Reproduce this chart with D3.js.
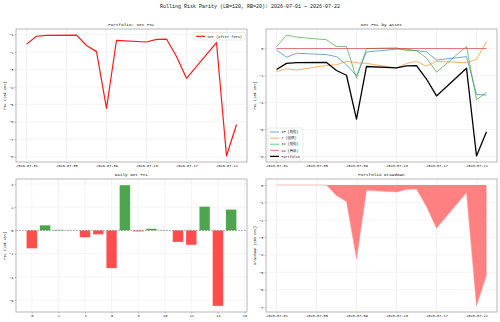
<!DOCTYPE html>
<html>
<head>
<meta charset="utf-8">
<script src="https://cdn.jsdelivr.net/npm/d3@7"></script>
<style>
  body { margin: 0; background: #fff; }
  text { font-family: "Liberation Mono", "Noto Sans CJK SC", monospace; fill: #111; }
</style>
</head>
<body>
<div id="chart"></div>
<script>
// trading days in the window
var dates = ["2026-07-01", "2026-07-02", "2026-07-03", "2026-07-06", "2026-07-07", "2026-07-08",
  "2026-07-09", "2026-07-10", "2026-07-13", "2026-07-14", "2026-07-15", "2026-07-16",
  "2026-07-17", "2026-07-20", "2026-07-21", "2026-07-22"];
var dateTicks = ["2026-07-01", "2026-07-05", "2026-07-09", "2026-07-13", "2026-07-17", "2026-07-21"];

// cumulative net pnl (10k CNY)
var netPnl = [-1.55, -1.10, -1.05, -1.03, -1.63, -1.98, -5.23, -1.33, -1.43, -1.28, -1.26, -2.26, -3.51, -1.46, -7.96, -6.16];
// daily net pnl
var dailyPnl = [-1.55, 0.45, 0.05, 0.02, -0.60, -0.35, -3.25, 3.90, -0.10, 0.15, 0.02, -1.00, -1.25, 2.05, -6.50, 1.80];
// drawdown
var drawdown = [0, 0, 0, 0, -0.60, -0.95, -4.22, -0.30, -0.40, -0.25, -0.23, -1.23, -2.48, -0.43, -6.93, -5.13];

// per asset cumulative pnl
var assetNames = ["IF (股指)", "T (国债)", "IC (股指)", "CU (商品)"];
var pnlIF = [-0.10, -0.65, -0.35, -0.45, -0.60, -1.20, -2.00, -0.25, -0.05, -0.05, -0.15, -0.25, -0.85, -0.60, -3.40, -3.45];
var pnlT = [-1.70, -1.50, -1.60, -1.25, -1.20, -0.95, -1.05, -1.10, -1.45, -1.10, -0.95, -1.30, -0.95, -1.05, -0.80, 0.50];
var pnlIC = [0.15, 1.00, 0.85, 0.65, 0.15, 0.15, -2.20, 0.00, 0.05, -0.15, -0.15, -0.70, -1.75, 0.15, -3.80, -3.25];
var pnlCU = [0, 0, 0, 0, 0, 0, 0, 0, 0, 0, 0, 0, 0, 0, 0, 0];

var tickTopLeft = [-8, -7, -6, -5, -4, -3, -2, -1];
var tickTopRight = [-8, -6, -4, -2, 0];
var tickDaily = [-6, -4, -2, 0, 2, 4];
var tickDailyX = [0, 2, 4, 6, 8, 10, 12, 14, 16];
var tickDrawdown = [-7, -6, -5, -4, -3, -2, -1, 0];

var assetColors = ["#1f77b4", "#ff7f0e", "#2ca02c", "#d62728"];

var parse = d3.timeParse("%Y-%m-%d");
var days = dates.map(parse);

var W = 500, H = 322;
var pw = 231, ph = 133;   // panel size
var svg = d3.select("#chart").append("svg")
  .attr("width", W)
  .attr("height", H);

svg.append("text")
  .attr("x", W / 2)
  .attr("y", 7.5)
  .attr("text-anchor", "middle")
  .style("font-size", "5px")
  .text("Rolling Risk Parity (LB=120, RB=20): 2026-07-01 ~ 2026-07-22");

// pad a domain like matplotlib does (5% each side)
function padded(lo, hi) {
  var p = (hi - lo) * 0.05;
  return [lo - p, hi + p];
}

var t0 = +days[0], t1 = +days[days.length - 1];
var tp = (t1 - t0) * 0.05;
function timeScale() {
  return d3.scaleTime().domain([new Date(t0 - tp), new Date(t1 + tp)]).range([0, pw]);
}

// draws grid, axes and titles of one panel
function panel(left, top, title, ylabel, x, y, xticks, yticks, xfmt) {
  var g = svg.append("g").attr("transform", "translate(" + left + "," + top + ")");

  g.selectAll(".gx").data(xticks).enter().append("line")
    .attr("x1", function (d) { return x(d); }).attr("x2", function (d) { return x(d); })
    .attr("y1", 0).attr("y2", ph)
    .attr("stroke", "#ebebeb").attr("stroke-width", 0.5);
  g.selectAll(".gy").data(yticks).enter().append("line")
    .attr("y1", function (d) { return y(d); }).attr("y2", function (d) { return y(d); })
    .attr("x1", 0).attr("x2", pw)
    .attr("stroke", "#ebebeb").attr("stroke-width", 0.5);

  var ax = g.append("g")
    .attr("transform", "translate(0," + ph + ")")
    .call(d3.axisBottom(x).tickValues(xticks).tickSize(1.3).tickPadding(1.2).tickFormat(xfmt));
  var ay = g.append("g")
    .call(d3.axisLeft(y).tickValues(yticks).tickSize(1.3).tickPadding(1.2).tickFormat(d3.format("d")));
  [ax, ay].forEach(function (a) {
    a.select(".domain").remove();
    a.selectAll("line").attr("stroke", "#777").attr("stroke-width", 0.5);
    a.selectAll("text").style("font-size", "3.6px").attr("fill", "#222");
  });

  g.append("text")
    .attr("x", pw / 2)
    .attr("y", -3)
    .attr("text-anchor", "middle")
    .style("font-size", "4.3px")
    .text(title);

  g.append("text")
    .attr("transform", "rotate(-90)")
    .attr("x", -ph / 2)
    .attr("y", -10)
    .attr("text-anchor", "middle")
    .style("font-size", "3.6px")
    .text(ylabel);

  return g;
}

// frame drawn last, on top of the marks
function frame(g) {
  g.append("rect")
    .attr("width", pw).attr("height", ph)
    .attr("fill", "none")
    .attr("stroke", "#999").attr("stroke-width", 0.7);
}

var dateFmt = d3.timeFormat("%Y-%m-%d");
var dateTickVals = dateTicks.map(parse);

// --- Portfolio: Net PnL
var x1 = timeScale();
var y1 = d3.scaleLinear().domain(padded(d3.min(netPnl), d3.max(netPnl))).range([ph, 0]);
var g1 = panel(16, 29, "Portfolio: Net PnL", "PnL (10k CNY)", x1, y1, dateTickVals, tickTopLeft, dateFmt);
g1.append("path")
  .datum(netPnl)
  .attr("fill", "none")
  .attr("stroke", "#ff1a1a")
  .attr("stroke-width", 1.2)
  .attr("stroke-linejoin", "round")
  .attr("d", d3.line().x(function (d, i) { return x1(days[i]); }).y(function (d) { return y1(d); }));
frame(g1);

var lg1 = g1.append("g").attr("transform", "translate(178,3.5)");
lg1.append("rect").attr("width", 51).attr("height", 7.5).attr("rx", 1)
  .attr("fill", "#fff").attr("stroke", "#ccc").attr("stroke-width", 0.4);
lg1.append("line").attr("x1", 2).attr("x2", 11).attr("y1", 3.8).attr("y2", 3.8)
  .attr("stroke", "#ff1a1a").attr("stroke-width", 1.2);
lg1.append("text").attr("x", 13.5).attr("y", 5).style("font-size", "3.6px").text("Net (after fees)");

// --- Net PnL by Asset
var assets = [pnlIF, pnlT, pnlIC, pnlCU];
var allVals = d3.merge(assets.concat([netPnl]));
var x2 = timeScale();
var y2 = d3.scaleLinear().domain(padded(d3.min(allVals), d3.max(allVals))).range([ph, 0]);
var g2 = panel(266, 29, "Net PnL by Asset", "PnL (10k CNY)", x2, y2, dateTickVals, tickTopRight, dateFmt);
var line2 = d3.line().x(function (d, i) { return x2(days[i]); }).y(function (d) { return y2(d); });
assets.forEach(function (a, k) {
  g2.append("path")
    .datum(a)
    .attr("fill", "none")
    .attr("stroke", assetColors[k])
    .attr("stroke-opacity", k == 3 ? 0.6 : 0.8)
    .attr("stroke-width", k == 3 ? 1.1 : 0.8)
    .attr("d", line2);
});
g2.append("path")
  .datum(netPnl)
  .attr("fill", "none")
  .attr("stroke", "#000")
  .attr("stroke-width", 1.3)
  .attr("stroke-linejoin", "round")
  .attr("d", line2);
frame(g2);

var lg2 = g2.append("g").attr("transform", "translate(2,99)");
lg2.append("rect").attr("width", 35).attr("height", 32).attr("rx", 1)
  .attr("fill", "#fff").attr("fill-opacity", 0.8).attr("stroke", "#ccc").attr("stroke-width", 0.4);
var legendNames = assetNames.concat(["Portfolio"]);
var legendColors = assetColors.concat(["#000"]);
legendNames.forEach(function (n, k) {
  var yy = 4 + k * 6.1;
  lg2.append("line").attr("x1", 2).attr("x2", 11).attr("y1", yy).attr("y2", yy)
    .attr("stroke", legendColors[k]).attr("stroke-opacity", k == 4 ? 1 : 0.8)
    .attr("stroke-width", k == 4 ? 1.3 : 0.8);
  lg2.append("text").attr("x", 13.5).attr("y", yy + 1.2).style("font-size", "3.4px").text(n);
});

// --- Daily Net PnL
var idx = d3.range(dailyPnl.length);
var x3 = d3.scaleLinear().domain(padded(-0.4, dailyPnl.length - 0.6)).range([0, pw]);
var y3 = d3.scaleLinear().domain(padded(d3.min(dailyPnl), d3.max(dailyPnl))).range([ph, 0]);
var g3 = panel(16, 179, "Daily Net PnL", "PnL (10k CNY)", x3, y3, tickDailyX, tickDaily, d3.format("d"));
g3.selectAll(".bar")
  .data(idx)
  .enter()
  .append("rect")
  .attr("x", function (i) { return x3(i - 0.4); })
  .attr("width", x3(0.8) - x3(0))
  .attr("y", function (i) { return y3(Math.max(0, dailyPnl[i])); })
  .attr("height", function (i) { return Math.abs(y3(dailyPnl[i]) - y3(0)); })
  .attr("fill", function (i) { return dailyPnl[i] >= 0 ? "#4da64d" : "#ff4d4d"; })
  .attr("stroke", "#fff")
  .attr("stroke-opacity", 0.6)
  .attr("stroke-width", 0.4);
g3.append("line")
  .attr("x1", 0).attr("x2", pw)
  .attr("y1", y3(0)).attr("y2", y3(0))
  .attr("stroke", "#000").attr("stroke-opacity", 0.5)
  .attr("stroke-width", 0.5).attr("stroke-dasharray", "2,1");
frame(g3);

// --- Portfolio Drawdown
var x4 = timeScale();
var y4 = d3.scaleLinear().domain(padded(d3.min(drawdown), 0)).range([ph, 0]);
var g4 = panel(266, 179, "Portfolio Drawdown", "Drawdown (10k CNY)", x4, y4, dateTickVals, tickDrawdown, dateFmt);
g4.append("path")
  .datum(drawdown)
  .attr("fill", "#ff8080")
  .attr("d", d3.area().x(function (d, i) { return x4(days[i]); }).y0(y4(0)).y1(function (d) { return y4(d); }));
g4.append("path")
  .datum(drawdown)
  .attr("fill", "none")
  .attr("stroke", "#ff9a9a")
  .attr("stroke-width", 0.6)
  .attr("d", d3.line().x(function (d, i) { return x4(days[i]); }).y(function (d) { return y4(d); }));
frame(g4);
</script>
</body>
</html>
